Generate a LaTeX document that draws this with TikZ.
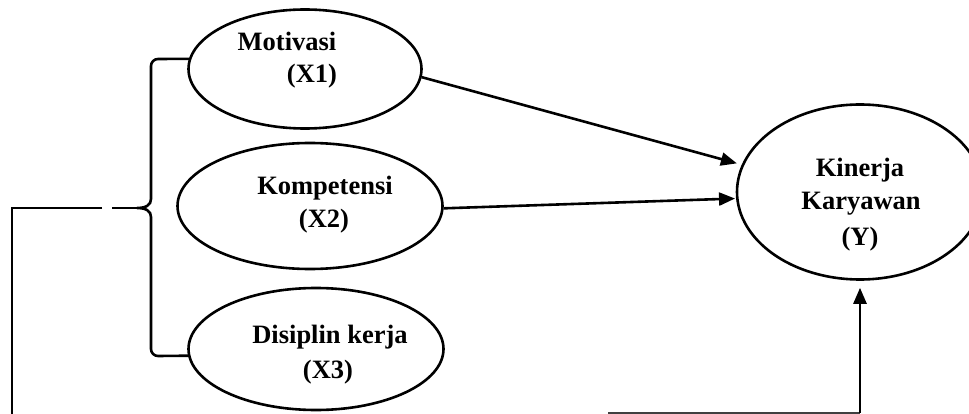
\documentclass[tikz,border=0pt]{standalone}
\usepackage{fontspec}
\setmainfont{Liberation Serif}
\usetikzlibrary{arrows.meta,shapes.geometric}
\begin{document}
\begin{tikzpicture}[x=1pt,y=-1pt,
  oval/.style={draw, ellipse, line width=2.6pt, inner sep=0pt},
  lbl/.style={font=\fontsize{26.5}{30}\selectfont\bfseries, anchor=base, inner sep=0pt},
  ln/.style={line width=2.6pt},
  arr/.style={line width=2.6pt, -{Triangle[length=16pt,width=13pt]}}]
\useasboundingbox (0,0) rectangle (969,414);
\clip (0,0) rectangle (969,414);
% ellipses
\node[oval, minimum width=233pt, minimum height=119pt] (m) at (305,69) {};
\node[oval, minimum width=265pt, minimum height=126pt] (k) at (310,206) {};
\node[oval, minimum width=255pt, minimum height=122pt] (d) at (316,349) {};
\node[oval, minimum width=246pt, minimum height=175pt] (y) at (860,192) {};
% labels
\node[lbl] (m1) at (287,51) {Motivasi};
\node[lbl] (m2) at (312,83) {(X1)};
\node[lbl] (k1) at (325,195) {Kompetensi};
\node[lbl] (k2) at (324,228) {(X2)};
\node[lbl] (d1) at (330,343) {Disiplin kerja};
\node[lbl] (d2) at (328,378) {(X3)};
\node[lbl] (y1) at (860,177) {Kinerja};
\node[lbl] (y2) at (861,210) {Karyawan};
\node[lbl] (y3) at (860,245) {(Y)};
% brace
\coordinate (tip) at (137,208);
\coordinate (g1) at (112,208);
\coordinate (g2) at (102,208);
\coordinate (lc) at (12,208);
\coordinate (lb) at (12,416);
\coordinate (bs) at (608,413);
\coordinate (bc) at (860,413);
\draw[ln] (m.175) -- (158,59) to[out=180,in=90] (151,66) -- (151,199)
  .. controls (151,205) and (146,208) .. (tip)
  .. controls (146,208) and (151,211) .. (151,217) -- (151,349)
  to[out=-90,in=180] (158,356) -- (d.183);
\draw[ln] (tip) -- (g1);
\draw[ln] (g2) -- (lc) -- (lb);
% arrows
\draw[arr, shorten >=5pt] (m.-4) -- (y.167);
\draw[arr, shorten >=1pt] (k.-1) -- (y.183);
\draw[ln, black!75] (bs) -- (bc);
\draw[arr, shorten >=7pt] (bc) -- (y.south);
\end{tikzpicture}
\end{document}
